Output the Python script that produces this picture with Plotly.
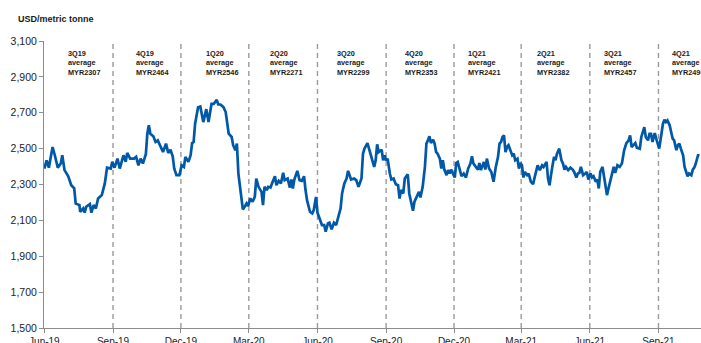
import pandas as pd
import plotly.graph_objects as go

# ---- data ----
base_date = "2019-06-01"
day_offsets = [
    0, 3, 6, 11, 14, 18, 22, 24, 27, 32, 36, 40, 42, 47, 48, 52, 54, 56, 61, 63,
    66, 69, 72, 77, 81, 84, 89, 91, 94, 98, 101, 106, 109, 111, 115, 120, 123, 126, 129, 132,
    136, 138, 140, 142, 146, 149, 152, 156, 159, 163, 166, 169, 172, 174, 177, 181, 184, 187, 189, 193,
    196, 198, 200, 202, 206, 209, 213, 217, 220, 224, 227, 231, 233, 236, 240, 243, 245, 247, 251, 253,
    256, 258, 260, 262, 264, 266, 269, 271, 273, 276, 279, 282, 284, 287, 291, 293, 295, 298, 300, 303,
    306, 309, 311, 314, 317, 320, 322, 326, 329, 331, 333, 335, 339, 342, 345, 348, 350, 352, 356, 359,
    361, 364, 366, 369, 372, 375, 377, 380, 382, 385, 388, 391, 394, 397, 399, 402, 405, 407, 409, 411,
    415, 418, 421, 425, 427, 429, 433, 436, 439, 442, 444, 446, 448, 452, 454, 456, 458, 460, 463, 465,
    468, 471, 474, 476, 478, 481, 483, 485, 487, 489, 492, 494, 496, 499, 502, 504, 507, 510, 512, 514,
    516, 518, 521, 523, 525, 527, 530, 532, 534, 536, 539, 541, 543, 545, 547, 550, 552, 554, 556, 559,
    562, 565, 568, 571, 573, 575, 579, 581, 583, 585, 589, 591, 593, 596, 599, 602, 605, 608, 610, 612,
    614, 616, 618, 620, 622, 625, 627, 629, 631, 634, 636, 638, 640, 642, 644, 647, 649, 652, 655, 657,
    659, 661, 664, 667, 669, 673, 675, 677, 680, 683, 685, 687, 690, 693, 695, 697, 699, 702, 705, 708,
    710, 713, 715, 717, 719, 722, 725, 727, 729, 732, 734, 736, 739, 741, 743, 745, 748, 750, 752, 754,
    756, 759, 761, 763, 765, 768, 771, 774, 777, 780, 783, 785, 787, 790, 792, 794, 798, 800, 802, 804,
    806, 809, 811, 813, 815, 818, 820, 822, 824, 827, 829, 831, 833, 835, 838, 840, 842, 844, 847, 849,
    851, 853, 856, 858, 860, 862, 864, 867, 869, 871, 873, 876, 878,
]
prices = [
    2389, 2435, 2394, 2509, 2463, 2394, 2417, 2463, 2380, 2346, 2296, 2278, 2194, 2185, 2148, 2167, 2143, 2176, 2191, 2143,
    2185, 2167, 2222, 2241, 2306, 2394, 2389, 2426, 2394, 2444, 2389, 2463, 2426, 2476, 2444, 2444, 2454, 2407, 2444, 2417,
    2469, 2583, 2630, 2583, 2569, 2537, 2546, 2509, 2481, 2528, 2476, 2494, 2457, 2389, 2352, 2352, 2407, 2398, 2454, 2426,
    2463, 2531, 2537, 2639, 2731, 2735, 2648, 2720, 2648, 2750, 2750, 2772, 2746, 2746, 2731, 2704, 2639, 2583, 2565, 2519,
    2491, 2528, 2361, 2287, 2213, 2161, 2180, 2194, 2180, 2222, 2204, 2231, 2333, 2287, 2259, 2185, 2287, 2269, 2287, 2283,
    2315, 2346, 2296, 2320, 2306, 2365, 2324, 2333, 2283, 2328, 2278, 2328, 2376, 2324, 2320, 2346, 2269, 2213, 2148, 2139,
    2157, 2231, 2143, 2102, 2074, 2074, 2037, 2083, 2087, 2050, 2087, 2074, 2120, 2167, 2250, 2306, 2333, 2376, 2352, 2328,
    2333, 2324, 2287, 2333, 2472, 2500, 2531, 2481, 2435, 2398, 2435, 2524, 2481, 2494, 2435, 2463, 2435, 2444, 2361, 2328,
    2333, 2302, 2296, 2222, 2269, 2250, 2333, 2343, 2357, 2250, 2185, 2154, 2204, 2231, 2259, 2228, 2287, 2398, 2528, 2546,
    2569, 2531, 2550, 2528, 2481, 2472, 2444, 2389, 2435, 2383, 2352, 2380, 2361, 2383, 2365, 2339, 2420, 2426, 2394, 2346,
    2361, 2339, 2389, 2417, 2457, 2417, 2394, 2383, 2420, 2380, 2426, 2383, 2444, 2389, 2370, 2315, 2398, 2454, 2528, 2537,
    2565, 2574, 2481, 2509, 2519, 2491, 2463, 2472, 2435, 2444, 2389, 2420, 2407, 2339, 2370, 2352, 2361, 2315, 2302, 2339,
    2370, 2407, 2380, 2407, 2398, 2426, 2333, 2296, 2380, 2454, 2435, 2472, 2500, 2435, 2417, 2383, 2398, 2380, 2394, 2383,
    2370, 2339, 2361, 2365, 2398, 2352, 2361, 2370, 2328, 2361, 2339, 2346, 2315, 2328, 2278, 2370, 2398, 2352, 2296, 2241,
    2278, 2328, 2352, 2398, 2365, 2407, 2398, 2417, 2491, 2531, 2546, 2574, 2509, 2519, 2531, 2505, 2500, 2565, 2593, 2620,
    2565, 2546, 2583, 2583, 2537, 2587, 2556, 2519, 2500, 2583, 2639, 2661, 2648, 2657, 2630, 2593, 2556, 2546, 2491, 2519,
    2528, 2500, 2463, 2398, 2370, 2346, 2361, 2352, 2383, 2394, 2417, 2463, 2463,
]

tick_dates = ["2019-06-01", "2019-09-01", "2019-12-01", "2020-03-01", "2020-06-01",
              "2020-09-01", "2020-12-01", "2021-03-01", "2021-06-01", "2021-09-01"]
tick_labels = ["Jun-19", "Sep-19", "Dec-19", "Mar-20", "Jun-20",
               "Sep-20", "Dec-20", "Mar-21", "Jun-21", "Sep-21"]
y_ticks = [1500, 1700, 1900, 2100, 2300, 2500, 2700, 2900, 3100]

quarters = ["3Q19", "4Q19", "1Q20", "2Q20", "3Q20", "4Q20", "1Q21", "2Q21", "3Q21", "4Q21"]
quarter_avgs = ["MYR2307", "MYR2464", "MYR2546", "MYR2271", "MYR2299",
                "MYR2353", "MYR2421", "MYR2382", "MYR2457", "MYR2490"]

# ---- layout constants ----
W, H = 701, 343
L, R, T, B = 44, 0, 41, 15
pw, ph = W - L - R, H - T - B
ann_px = [67, 135, 205, 269, 336, 404, 467, 536, 603, 671]

dates = pd.Timestamp(base_date) + pd.to_timedelta(day_offsets, unit="D")

fig = go.Figure()
fig.add_trace(go.Scatter(x=dates, y=prices, mode="lines",
                         line=dict(color="#0058a8", width=2.7),
                         showlegend=False, hoverinfo="skip"))

for d in tick_dates[1:]:
    fig.add_shape(type="line", xref="x", yref="paper", x0=d, x1=d, y0=0, y1=1,
                  line=dict(color="#9a9a9a", width=1.4, dash="5px,4px"), layer="below")

for q, a, px in zip(quarters, quarter_avgs, ann_px):
    fig.add_annotation(text=f"<b>{q}<br>average<br>{a}</b>", xref="paper", yref="paper",
                       x=(px - L) / pw, y=(H - B - 48) / ph, xanchor="left", yanchor="top",
                       align="left", showarrow=False,
                       font=dict(size=7.3, color="#1a1a1a", family="Liberation Sans, Arial"),
                       borderpad=0)

fig.add_annotation(text="<b>USD/metric tonne</b>", xref="paper", yref="paper",
                   x=(16 - L) / pw, y=(H - B - 19) / ph, xanchor="left", yanchor="middle",
                   showarrow=False, font=dict(size=9, color="#1a1a1a", family="Liberation Sans, Arial"))

fig.update_layout(
    width=W, height=H,
    margin=dict(l=L, r=R, t=T, b=B, autoexpand=False),
    paper_bgcolor="white", plot_bgcolor="white",
    font=dict(family="Liberation Sans, Arial", size=10, color="#222222"),
    xaxis=dict(range=["2019-05-31 12:00", "2021-10-28"], tickvals=tick_dates, ticktext=tick_labels,
               showgrid=False, zeroline=False, showline=True, linecolor="#8c8c8c", linewidth=1,
               ticks="outside", ticklen=4, tickcolor="#8c8c8c", tickfont=dict(size=10),
               automargin=False),
    yaxis=dict(range=[1500, 3100], tickvals=y_ticks, tickformat=",d",
               showgrid=False, zeroline=False, showline=True, linecolor="#8c8c8c", linewidth=1,
               ticks="outside", ticklen=4, tickcolor="#8c8c8c", tickfont=dict(size=10.5),
               automargin=False),
)

fig.write_html("out.html")
